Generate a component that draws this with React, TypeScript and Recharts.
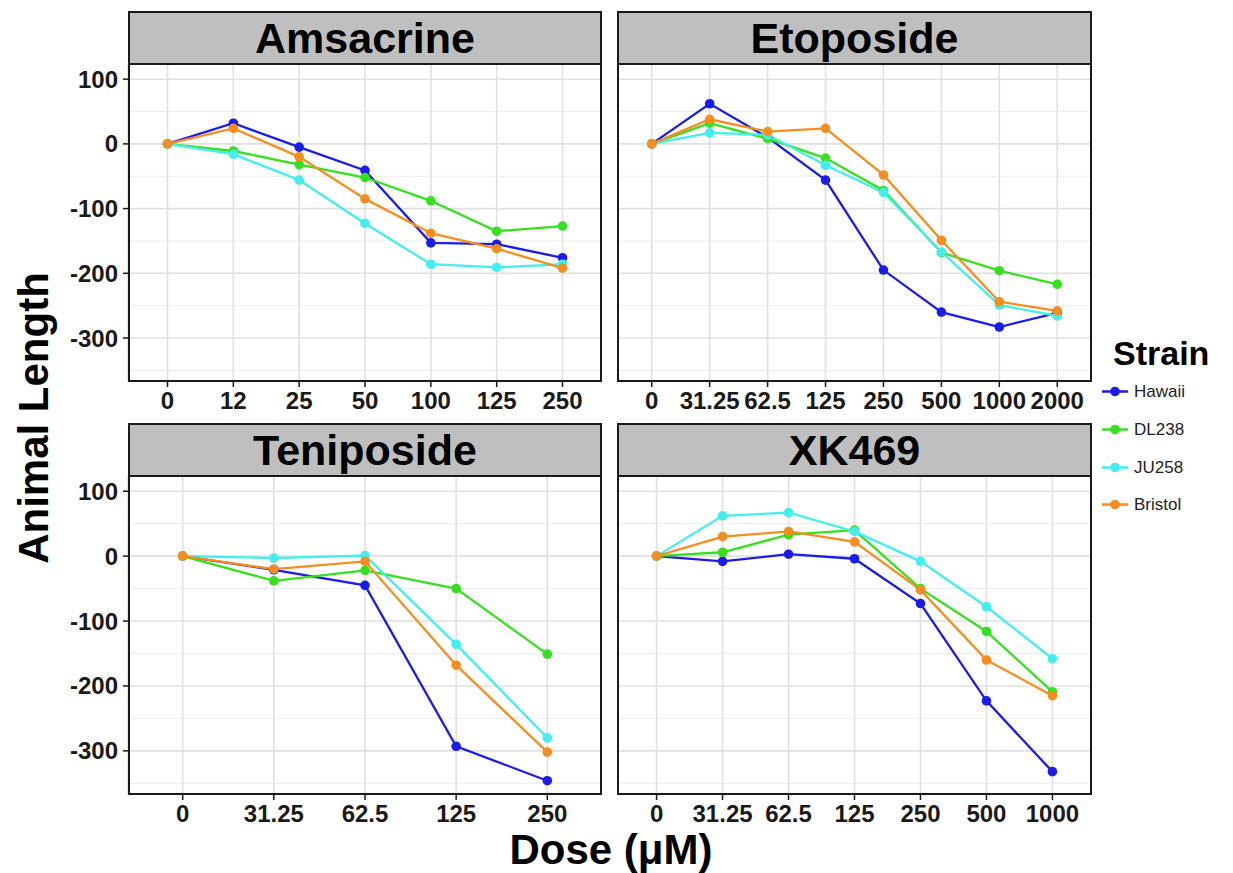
import React from 'react';
import { LineChart, Line, XAxis, YAxis, CartesianGrid } from 'recharts';

const strains = ['Hawaii', 'DL238', 'JU258', 'Bristol'];
const strainColors = ['#1c1ce8', '#35e11f', '#42eeee', '#f68d1f'];

const yTicks = [100, 0, -100, -200, -300];
const yMinor = [50, -50, -150, -250, -350];
const yDomain = [-368, 125];

// Amsacrine
const amsDoses = ['0', '12', '25', '50', '100', '125', '250'];
const amsHawaii = [0, 32, -5, -41, -153, -155, -176];
const amsDL238 = [0, -11, -32, -52, -88, -135, -127];
const amsJU258 = [0, -16, -56, -123, -186, -191, -186];
const amsBristol = [0, 24, -20, -85, -138, -162, -192];

// Etoposide
const etoDoses = ['0', '31.25', '62.5', '125', '250', '500', '1000', '2000'];
const etoHawaii = [0, 62, 10, -56, -195, -260, -283, -261];
const etoDL238 = [0, 32, 8, -22, -72, -168, -196, -217];
const etoJU258 = [0, 17, 14, -33, -75, -167, -249, -266];
const etoBristol = [0, 38, 19, 24, -48, -149, -244, -258];

// Teniposide
const tenDoses = ['0', '31.25', '62.5', '125', '250'];
const tenHawaii = [0, -21, -45, -293, -346];
const tenDL238 = [0, -38, -22, -50, -151];
const tenJU258 = [0, -3, 1, -136, -280];
const tenBristol = [0, -20, -8, -168, -302];

// XK469
const xkDoses = ['0', '31.25', '62.5', '125', '250', '500', '1000'];
const xkHawaii = [0, -8, 3, -4, -73, -223, -332];
const xkDL238 = [0, 6, 33, 40, -50, -116, -209];
const xkJU258 = [0, 62, 67, 38, -8, -78, -158];
const xkBristol = [0, 30, 38, 22, -52, -160, -215];

const buildRows = (doses: string[], series: number[][]) =>
  doses.map((d, i) => {
    const row: any = { dose: d };
    strains.forEach((s, k) => {
      row[s] = series[k][i];
    });
    return row;
  });

const FONT = '"Liberation Sans", Arial, sans-serif';
const INK = '#1a1a1a';

const XTick = (props: any) => {
  const { x, y, payload } = props;
  return (
    <text x={x} y={y} dy={20} textAnchor="middle" fontSize={24} fontWeight="bold" fill={INK} fontFamily={FONT}>
      {payload.value}
    </text>
  );
};

const YTick = (props: any) => {
  const { x, y, payload } = props;
  return (
    <text x={x} y={y} dy={8.5} textAnchor="end" fontSize={24} fontWeight="bold" fill={INK} fontFamily={FONT}>
      {payload.value}
    </text>
  );
};

type PanelProps = {
  title: string;
  doses: string[];
  series: number[][];
  plotLeft: number;
  plotTop: number;
  plotWidth: number;
  plotHeight: number;
  showY: boolean;
};

const Panel = ({ title, doses, series, plotLeft, plotTop, plotWidth, plotHeight, showY }: PanelProps) => {
  const rows = buildRows(doses, series);
  const pad = (plotWidth * 0.6) / (doses.length - 1 + 1.2);
  const yAxisW = showY ? plotLeft : 0;
  const chartLeft = showY ? 0 : plotLeft;
  const xAxisH = 34;
  const stripH = 52;
  return (
    <>
      <div
        style={{
          position: 'absolute',
          left: plotLeft,
          top: plotTop - stripH,
          width: plotWidth,
          height: stripH + 2,
          background: '#bfbfbf',
          border: `2px solid ${INK}`,
          boxSizing: 'border-box',
          display: 'flex',
          alignItems: 'center',
          justifyContent: 'center',
          fontFamily: FONT,
          fontWeight: 'bold',
          fontSize: 43,
          color: '#000',
          lineHeight: 1,
        }}
      >
        {title}
      </div>
      <div style={{ position: 'absolute', left: chartLeft, top: plotTop }}>
        <LineChart
          width={yAxisW + plotWidth}
          height={plotHeight + xAxisH}
          data={rows}
          margin={{ top: 0, right: 0, bottom: 0, left: 0 }}
        >
          <CartesianGrid
            horizontalValues={yMinor}
            vertical={false}
            stroke="#ededed"
            strokeWidth={1}
          />
          <CartesianGrid
            horizontalValues={yTicks}
            stroke="#e0e0e0"
            strokeWidth={1.6}
          />
          <XAxis
            dataKey="dose"
            type="category"
            scale="point"
            padding={{ left: pad, right: pad }}
            interval={0}
            axisLine={false}
            tickLine={{ stroke: INK, strokeWidth: 1.5 }}
            tickSize={5}
            tickMargin={2}
            tick={<XTick />}
            height={xAxisH}
          />
          <YAxis
            hide={!showY}
            type="number"
            domain={yDomain}
            ticks={yTicks}
            allowDataOverflow
            axisLine={false}
            tickLine={{ stroke: INK, strokeWidth: 1.5 }}
            tickSize={5}
            tickMargin={5}
            tick={<YTick />}
            width={yAxisW}
          />
          {strains.map((s, k) => (
            <Line
              key={s}
              type="linear"
              dataKey={s}
              stroke={strainColors[k]}
              strokeWidth={2.3}
              dot={{ r: 4.8, fill: strainColors[k], stroke: strainColors[k], strokeWidth: 0 }}
              isAnimationActive={false}
            />
          ))}
        </LineChart>
      </div>
      <div
        style={{
          position: 'absolute',
          left: plotLeft,
          top: plotTop,
          width: plotWidth,
          height: plotHeight,
          border: `2px solid ${INK}`,
          boxSizing: 'border-box',
          pointerEvents: 'none',
        }}
      />
    </>
  );
};

export default function App() {
  return (
    <div
      style={{
        position: 'absolute',
        left: 0,
        top: 0,
        width: 1233,
        height: 873,
        background: '#fff',
        overflow: 'hidden',
        fontFamily: FONT,
      }}
    >
      <Panel title="Amsacrine" doses={amsDoses} series={[amsHawaii, amsDL238, amsJU258, amsBristol]}
        plotLeft={128} plotTop={63} plotWidth={474} plotHeight={319} showY />
      <Panel title="Etoposide" doses={etoDoses} series={[etoHawaii, etoDL238, etoJU258, etoBristol]}
        plotLeft={617} plotTop={63} plotWidth={475} plotHeight={319} showY={false} />
      <Panel title="Teniposide" doses={tenDoses} series={[tenHawaii, tenDL238, tenJU258, tenBristol]}
        plotLeft={128} plotTop={475} plotWidth={474} plotHeight={320} showY />
      <Panel title="XK469" doses={xkDoses} series={[xkHawaii, xkDL238, xkJU258, xkBristol]}
        plotLeft={617} plotTop={475} plotWidth={475} plotHeight={320} showY={false} />

      <div
        style={{
          position: 'absolute',
          left: 34,
          top: 418,
          transform: 'translate(-50%, -50%) rotate(-90deg)',
          whiteSpace: 'nowrap',
          fontWeight: 'bold',
          fontSize: 42,
          color: '#000',
          lineHeight: 1,
        }}
      >
        Animal Length
      </div>
      <div
        style={{
          position: 'absolute',
          left: 611,
          top: 850,
          transform: 'translate(-50%, -50%)',
          whiteSpace: 'nowrap',
          fontWeight: 'bold',
          fontSize: 42,
          color: '#000',
          lineHeight: 0.9,
        }}
      >
        Dose (μM)
      </div>

      <div
        style={{
          position: 'absolute',
          left: 1113,
          top: 353,
          transform: 'translateY(-50%)',
          fontWeight: 'bold',
          fontSize: 34,
          color: '#000',
          lineHeight: 1,
        }}
      >
        Strain
      </div>
      {strains.map((s, k) => (
        <div
          key={s}
          style={{
            position: 'absolute',
            left: 1101,
            top: [391, 429, 467, 504][k],
            transform: 'translateY(-50%)',
            display: 'flex',
            alignItems: 'center',
            lineHeight: 1,
          }}
        >
          <svg width={28} height={16}>
            <line x1={1} y1={8} x2={27} y2={8} stroke={strainColors[k]} strokeWidth={2.3} />
            <circle cx={14} cy={8} r={4.8} fill={strainColors[k]} />
          </svg>
          <span style={{ marginLeft: 5, fontSize: 17, color: '#222' }}>{s}</span>
        </div>
      ))}
    </div>
  );
}
